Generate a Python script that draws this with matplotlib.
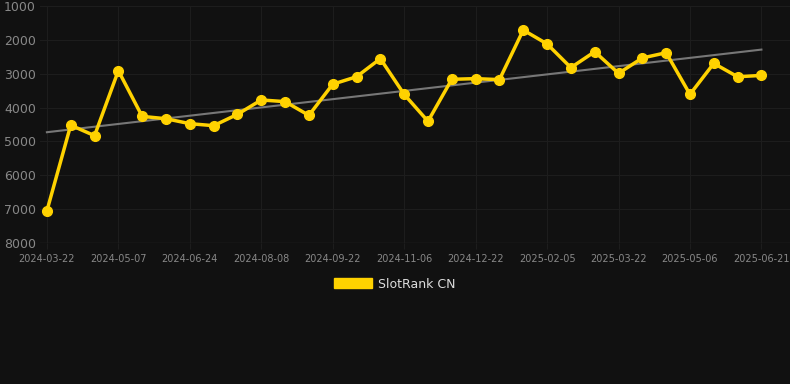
import matplotlib.pyplot as plt
import numpy as np

dates = ["2024-03-22", "2024-05-07", "2024-06-24", "2024-08-08", "2024-09-22",
         "2024-11-06", "2024-12-22", "2025-02-05", "2025-03-22", "2025-05-06",
         "2025-06-21"]
rank = [7050, 4520, 4830, 2910, 4260, 4330, 4475, 4535, 4200, 3775,
        3825, 4230, 3310, 3090, 2555, 3610, 4405, 3165, 3145, 3175,
        1710, 2120, 2820, 2350, 2990, 2535, 2380, 3610, 2695, 3090,
        3050]

bg = "#111111"
yellow = "#ffd200"

fig = plt.figure(figsize=(7.9, 3.84), dpi=100, facecolor=bg)
ax = fig.add_axes([40 / 790, 1 - 243 / 384, 750 / 790, 237 / 384], facecolor=bg)

x = np.arange(len(rank))
ax.plot(x, rank, color=yellow, lw=2.5, marker="o", ms=7, zorder=3,
        label="SlotRank CN")

# linear trend
k, b = np.polyfit(x, rank, 1)
ax.plot(x, k * x + b, color="#777777", lw=1.5, zorder=2)

ax.set_ylim(8000, 1000)
ax.set_xlim(-0.29, 31.2)
ax.set_yticks(range(1000, 8001, 1000))
ax.set_xticks(x[::3])
ax.set_xticklabels(dates)

ax.grid(True, color="#1d1d1d", lw=0.8)
for s in ax.spines.values():
    s.set_visible(False)
ax.axhline(8000, color="#2a2a2a", lw=1, zorder=1)
ax.tick_params(axis="y", length=0, pad=3, labelsize=9, labelcolor="#888888")
ax.tick_params(axis="x", length=4, color="#1d1d1d", pad=4, labelsize=7,
               labelcolor="#888888")

leg = fig.legend(handles=[plt.Rectangle((0, 0), 1, 1, color=yellow)],
                 labels=["SlotRank CN"], loc="center", bbox_to_anchor=(0.5, 1 - 284 / 384),
                 frameon=False, fontsize=9, labelcolor="#dddddd",
                 handlelength=3.0, handleheight=0.9, handletextpad=0.5)

fig.savefig("out.png", dpi=100, facecolor=bg)
